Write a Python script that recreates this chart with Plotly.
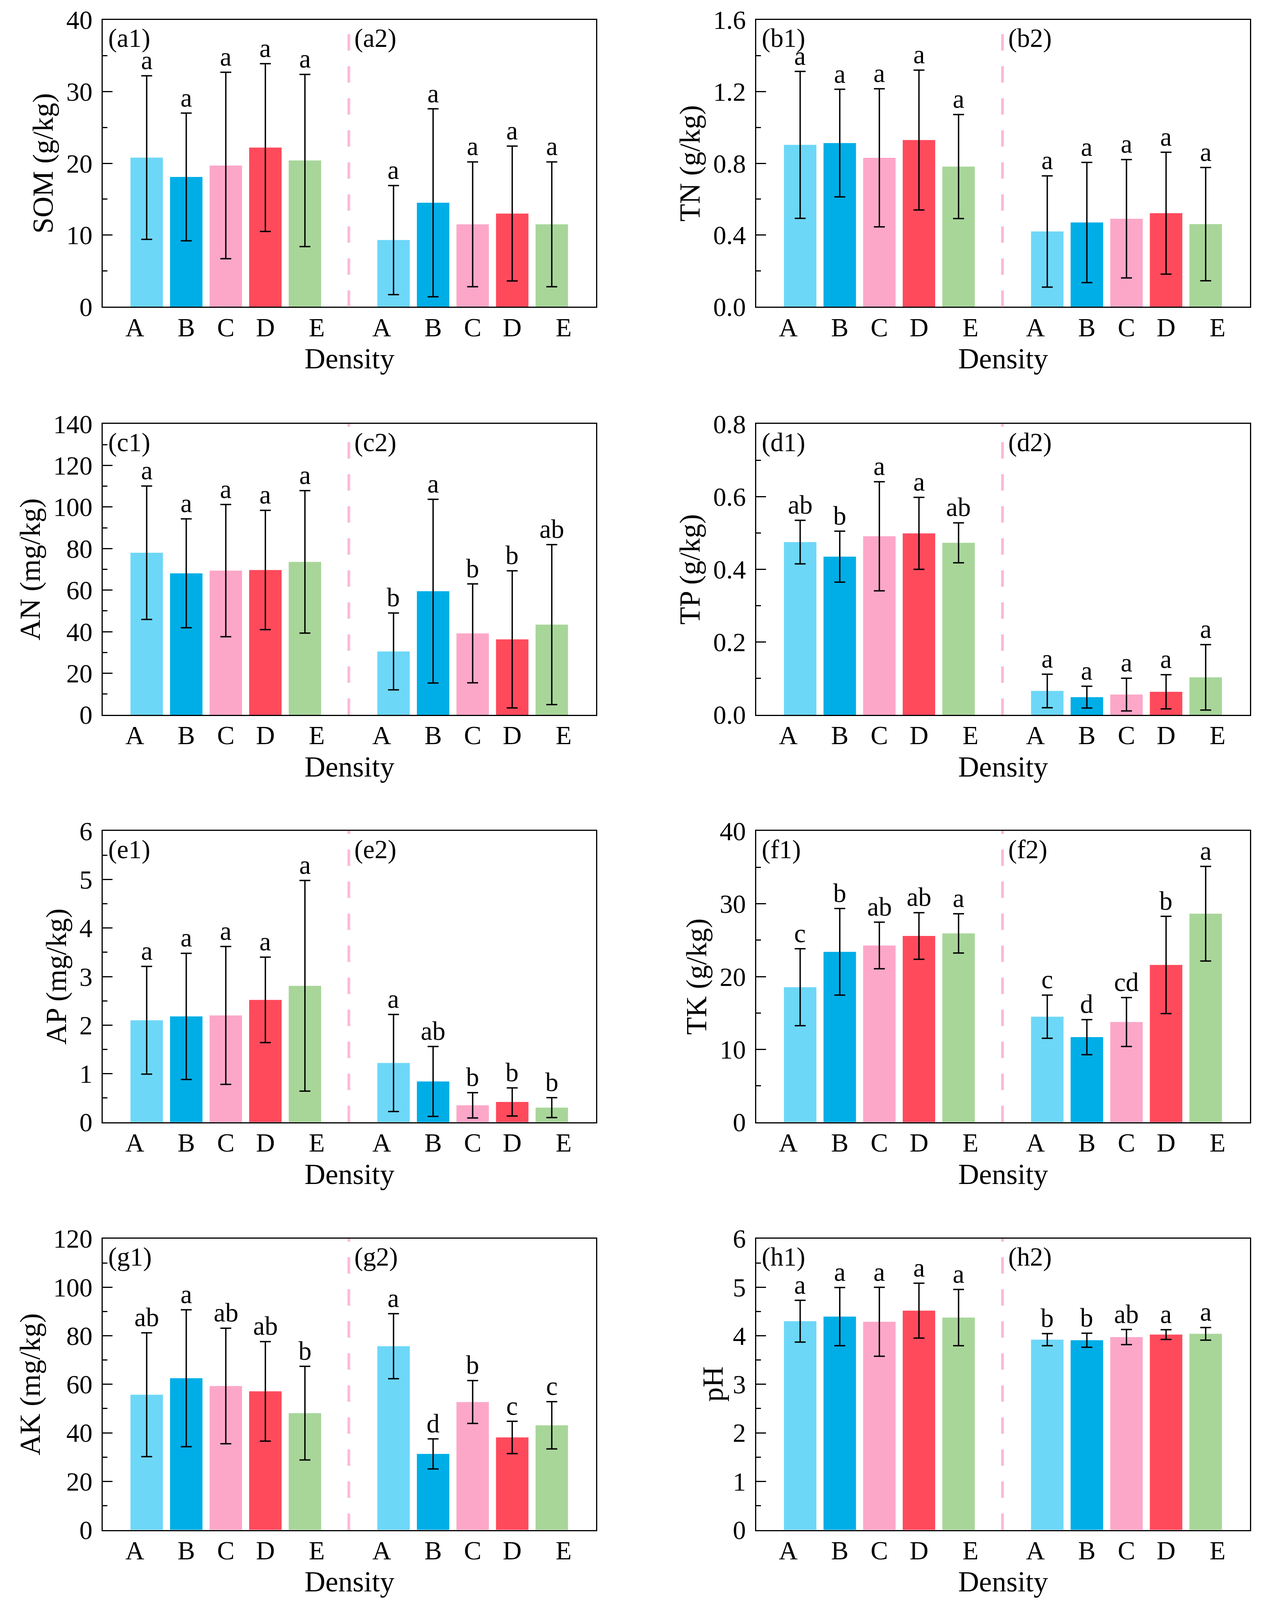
import plotly.graph_objects as go

# categories (two groups of densities per panel)
density = ["A", "B", "C", "D", "E"]
bar_colors = ["#6DD7F8", "#00AEE7", "#FDA7C8", "#FF4A5C", "#A8D699"]

# values: first 5 = group 1, last 5 = group 2
som_mean = [20.8, 18.1, 19.7, 22.2, 20.4, 9.3, 14.5, 11.5, 13.0, 11.5]
som_sd = [11.4, 8.9, 13.0, 11.7, 12.0, 7.6, 13.1, 8.7, 9.4, 8.7]
som_sig = ["a", "a", "a", "a", "a", "a", "a", "a", "a", "a"]

tn_mean = [0.903, 0.913, 0.831, 0.930, 0.782, 0.420, 0.470, 0.491, 0.522, 0.461]
tn_sd = [0.41, 0.30, 0.385, 0.39, 0.29, 0.31, 0.335, 0.33, 0.34, 0.316]
tn_sig = ["a", "a", "a", "a", "a", "a", "a", "a", "a", "a"]

an_mean = [78.0, 68.1, 69.4, 69.7, 73.6, 30.5, 59.5, 39.2, 36.3, 43.4]
an_sd = [32.1, 26.2, 31.8, 28.7, 34.3, 18.5, 44.2, 23.8, 33.0, 38.5]
an_sig = ["a", "a", "a", "a", "a", "b", "a", "b", "b", "ab"]

tp_mean = [0.475, 0.435, 0.491, 0.499, 0.473, 0.0656, 0.0486, 0.0557, 0.0634, 0.103]
tp_sd = [0.06, 0.07, 0.15, 0.099, 0.055, 0.046, 0.030, 0.045, 0.047, 0.09]
tp_sig = ["ab", "b", "a", "a", "ab", "a", "a", "a", "a", "a"]

ap_mean = [2.10, 2.18, 2.20, 2.52, 2.81, 1.22, 0.84, 0.348, 0.417, 0.30]
ap_sd = [1.11, 1.30, 1.42, 0.88, 2.17, 1.0, 0.72, 0.26, 0.29, 0.205]
ap_sig = ["a", "a", "a", "a", "a", "a", "ab", "b", "b", "b"]

tk_mean = [18.54, 23.40, 24.27, 25.58, 25.93, 14.49, 11.68, 13.76, 21.60, 28.64]
tk_sd = [5.28, 5.95, 3.2, 3.2, 2.7, 2.97, 2.41, 3.36, 6.68, 6.5]
tk_sig = ["c", "b", "ab", "ab", "a", "c", "d", "cd", "b", "a"]

ak_mean = [55.7, 62.5, 59.3, 57.1, 48.1, 75.7, 31.3, 52.7, 38.1, 43.1]
ak_sd = [25.5, 28.2, 23.8, 20.5, 19.3, 13.4, 6.2, 8.85, 6.65, 9.75]
ak_sig = ["ab", "a", "ab", "ab", "b", "a", "d", "b", "c", "c"]

ph_mean = [4.30, 4.395, 4.288, 4.517, 4.374, 3.92, 3.907, 3.973, 4.024, 4.04]
ph_sd = [0.43, 0.60, 0.71, 0.565, 0.58, 0.125, 0.145, 0.155, 0.10, 0.13]
ph_sig = ["a", "a", "a", "a", "a", "b", "b", "ab", "a", "a"]

# (y title, panel tag, means, sds, letters, y max, tick step, tick format)
panels = [
    ("SOM (g/kg)", "a", som_mean, som_sd, som_sig, 40, 10, ""),
    ("TN (g/kg)", "b", tn_mean, tn_sd, tn_sig, 1.6, 0.4, ".1f"),
    ("AN (mg/kg)", "c", an_mean, an_sd, an_sig, 140, 20, ""),
    ("TP (g/kg)", "d", tp_mean, tp_sd, tp_sig, 0.8, 0.2, ".1f"),
    ("AP (mg/kg)", "e", ap_mean, ap_sd, ap_sig, 6, 1, ""),
    ("TK (g/kg)", "f", tk_mean, tk_sd, tk_sig, 40, 10, ""),
    ("AK (mg/kg)", "g", ak_mean, ak_sd, ak_sig, 120, 20, ""),
    ("pH", "h", ph_mean, ph_sd, ph_sig, 6, 1, ""),
]

# bar positions: group 1 at 1..5, group 2 shifted right, dashed divider between
group_shift = 6.24
xpos = [i + 1 for i in range(5)] + [i + 1 + group_shift for i in range(5)]
divider_x = 6.11
x_range = [-0.11, 12.36]
label_shift = [-0.3, 0, 0, 0, 0.3]  # tick labels A and E sit a bit outward
tickvals = [xpos[i] + label_shift[i % 5] for i in range(10)]

# page is shown in a viewport a bit shorter than the window, so keep it compact
W, H = 3225, 4085
col_domains = [[0.0791, 0.4707], [0.5978, 0.9898]]
row_domains = [[0.8097, 0.9895], [0.5540, 0.7363], [0.2987, 0.4812], [0.0432, 0.2257]]

FONT = "Liberation Serif"
TICK_SIZE = 67
TITLE_SIZE = 74

fig = go.Figure()
layout = {}
shapes = []
annotations = []

for k, (ytitle, tag, mean, sd, sig, ymax, dtick, fmt) in enumerate(panels):
    n = k + 1
    xname = "x" if n == 1 else "x%d" % n
    yname = "y" if n == 1 else "y%d" % n
    row, col = k // 2, k % 2

    fig.add_trace(go.Bar(
        x=xpos, y=mean, width=0.82, xaxis=xname, yaxis=yname,
        marker=dict(color=bar_colors * 2, line_width=0),
        error_y=dict(type="data", array=sd, thickness=3.5, width=14, color="black"),
        showlegend=False,
    ))

    layout["xaxis" if n == 1 else "xaxis%d" % n] = dict(
        domain=col_domains[col], anchor=yname, range=x_range, automargin=False,
        tickmode="array", tickvals=tickvals, ticktext=density * 2,
        ticks="", showline=True, linewidth=3, linecolor="black", mirror=True,
        showgrid=False, zeroline=False, tickfont=dict(size=TICK_SIZE),
        ticklabelstandoff=-8, ticklabeloverflow="allow",
        title=dict(text="Density", font=dict(size=TITLE_SIZE), standoff=18),
    )
    # pH title sits closer to its axis than plotly's standoff allows -> annotation
    use_axis_title = ytitle != "pH"
    layout["yaxis" if n == 1 else "yaxis%d" % n] = dict(
        domain=row_domains[row], anchor=xname, range=[0, ymax], automargin=False,
        tick0=0, dtick=dtick, tickformat=fmt,
        ticks="inside", ticklen=25, tickwidth=3, tickcolor="black",
        minor=dict(ticks="inside", ticklen=12, tickwidth=3, dtick=dtick / 2, tickcolor="black"),
        showline=True, linewidth=3, linecolor="black", mirror=True,
        showgrid=False, zeroline=False, tickfont=dict(size=TICK_SIZE),
        ticklabelstandoff=10, ticklabeloverflow="allow",
        title=dict(text=ytitle if use_axis_title else "", font=dict(size=TITLE_SIZE), standoff=10),
    )
    if not use_axis_title:
        annotations.append(dict(
            x=-0.088, y=0.5, xref=xname + " domain", yref=yname + " domain",
            text=ytitle, textangle=-90, showarrow=False,
            xanchor="center", yanchor="middle", font=dict(size=TITLE_SIZE),
        ))

    shapes.append(dict(
        type="line", xref=xname, yref=yname + " domain",
        x0=divider_x, x1=divider_x, y0=0, y1=1,
        line=dict(color="#FDB8DA", width=7, dash="42px,40px"),
    ))

    for i in range(10):
        annotations.append(dict(
            x=xpos[i], y=mean[i] + sd[i], xref=xname, yref=yname,
            text=sig[i], showarrow=False, yanchor="bottom", yshift=1,
            font=dict(size=TICK_SIZE),
        ))
    for j, xl in enumerate([x_range[0], divider_x]):
        annotations.append(dict(
            x=xl + 0.12, y=0.937, xref=xname, yref=yname + " domain",
            text="(%s%d)" % (tag, j + 1), showarrow=False,
            xanchor="left", yanchor="middle", font=dict(size=TICK_SIZE),
        ))

fig.update_layout(
    template="none",
    width=W, height=H,
    margin=dict(l=0, r=0, t=0, b=0, autoexpand=False),
    paper_bgcolor="white", plot_bgcolor="white",
    font=dict(family=FONT, color="black"),
    shapes=shapes, annotations=annotations,
    **layout,
)

fig.write_html("out.html")
